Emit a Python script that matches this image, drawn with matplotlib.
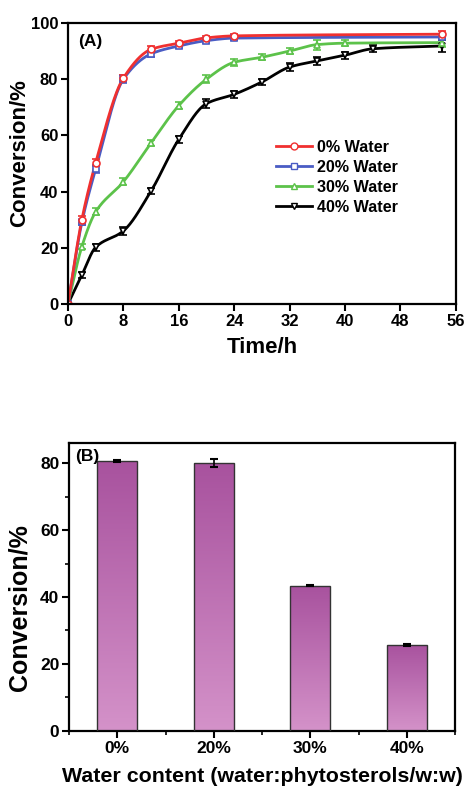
import numpy as np
import matplotlib
matplotlib.use('Agg')
import matplotlib.pyplot as plt
from matplotlib.ticker import MultipleLocator, FixedLocator

plt.rcParams['font.family'] = ['Liberation Sans', 'DejaVu Sans']
plt.rcParams['font.weight'] = 'bold'
plt.rcParams['axes.labelweight'] = 'bold'

# (A) conversion vs time
t_fast = [0, 2, 4, 8, 12, 16, 20, 24, 54]
conv_0 = [0, 30.0, 50.3, 80.4, 90.6, 92.8, 94.7, 95.4, 96.0]
err_0 = [0, 1.2, 1.3, 1.2, 1.3, 0.8, 0.8, 0.8, 1.0]
conv_20 = [0, 29.0, 48.0, 80.0, 89.0, 91.8, 93.7, 94.6, 95.0]
err_20 = [0, 1.0, 1.5, 1.3, 1.0, 0.8, 0.8, 0.8, 0.8]

t_30 = [0, 2, 4, 8, 12, 16, 20, 24, 28, 32, 36, 40, 54]
conv_30 = [0, 20.4, 32.8, 43.5, 57.3, 70.6, 80.0, 86.0, 87.8, 90.0, 92.3, 92.8, 93.0]
err_30 = [0, 1.0, 1.3, 1.2, 1.2, 1.3, 1.5, 1.3, 1.0, 1.2, 1.8, 1.0, 1.5]

t_40 = [0, 2, 4, 8, 12, 16, 20, 24, 28, 32, 36, 40, 44, 54]
conv_40 = [0, 10.3, 20.2, 26.0, 40.2, 58.6, 71.3, 74.6, 79.0, 84.3, 86.5, 88.5, 90.8, 91.8]
err_40 = [0, 1.2, 1.2, 1.3, 1.0, 1.3, 1.5, 1.2, 1.0, 1.3, 1.5, 1.3, 1.3, 2.0]

# (B) conversion at 8 h vs water content
water_labels = ['0%', '20%', '30%', '40%']
conv_8h = [80.6, 80.0, 43.4, 25.8]
err_8h = [0.3, 1.3, 0.2, 0.3]


def pchip(x, y, xs):
    # monotone cubic for a smooth line through the points
    x = np.asarray(x, float)
    y = np.asarray(y, float)
    h = np.diff(x)
    d = np.diff(y) / h
    m = np.zeros_like(y)
    for k in range(1, len(x) - 1):
        if d[k - 1] * d[k] > 0:
            w1 = 2 * h[k] + h[k - 1]
            w2 = h[k] + 2 * h[k - 1]
            m[k] = (w1 + w2) / (w1 / d[k - 1] + w2 / d[k])
    m[0] = d[0]
    m[-1] = d[-1]
    idx = np.clip(np.searchsorted(x, xs) - 1, 0, len(x) - 2)
    hh = h[idx]
    s = (xs - x[idx]) / hh
    h00 = 2 * s**3 - 3 * s**2 + 1
    h10 = s**3 - 2 * s**2 + s
    h01 = -2 * s**3 + 3 * s**2
    h11 = s**3 - s**2
    return h00 * y[idx] + h10 * hh * m[idx] + h01 * y[idx + 1] + h11 * hh * m[idx + 1]


fig = plt.figure(figsize=(4.67, 7.91), dpi=100)
ax1 = fig.add_axes([0.1456, 0.6157, 0.8304, 0.3553])
ax2 = fig.add_axes([0.1478, 0.0759, 0.8265, 0.3641])

series = [
    (t_fast, conv_0, err_0, '#f03030', 'o', '0% Water'),
    (t_fast, conv_20, err_20, '#4a5cc4', 's', '20% Water'),
    (t_30, conv_30, err_30, '#5cc24a', '^', '30% Water'),
    (t_40, conv_40, err_40, 'black', 'v', '40% Water'),
]
for t, c, e, col, mk, lab in reversed(series):
    ts = np.linspace(0, max(t), 400)
    ax1.plot(ts, pchip(t, c, ts), color=col, lw=2)
    ax1.errorbar(t, c, yerr=e, fmt=mk, color=col, mfc='white', mec=col,
                 ms=5, mew=1.2, capsize=3, elinewidth=1.5, capthick=1.5)
for t, c, e, col, mk, lab in series:
    ax1.plot([], [], color=col, lw=2, marker=mk, mfc='white', ms=5, mew=1, label=lab)

ax1.set_xlim(0, 56)
ax1.set_ylim(0, 100)
ax1.xaxis.set_major_locator(MultipleLocator(8))
ax1.yaxis.set_major_locator(MultipleLocator(20))
ax1.set_xlabel('Time/h', fontsize=16, labelpad=6)
ax1.set_ylabel('Conversion/%', fontsize=16)
ax1.yaxis.set_label_coords(-0.098, 0.537)
ax1.text(0.025, 0.96, '(A)', transform=ax1.transAxes, fontsize=12.5,
         fontweight='bold', va='top')
ax1.legend(loc='upper left', bbox_to_anchor=(0.5, 0.635), frameon=False,
           fontsize=11.6, handlelength=2.2, labelspacing=0.3, handletextpad=0.3)

# bars with vertical gradient
xpos = np.arange(len(water_labels))
bars = ax2.bar(xpos, conv_8h, width=0.41, color='none', edgecolor='#333333',
               linewidth=1, zorder=3)
ax2.errorbar(xpos, conv_8h, yerr=err_8h, fmt='none', ecolor='black',
             capsize=3, elinewidth=1.2, capthick=1.5, zorder=4)
grad = np.linspace(0, 1, 256).reshape(-1, 1)
cmap = matplotlib.colors.LinearSegmentedColormap.from_list('pm', ['#d492c9', '#a8529e'])
for b in bars:
    x0 = b.get_x()
    im = ax2.imshow(grad, cmap=cmap, origin='lower', aspect='auto',
                    extent=[x0, x0 + b.get_width(), 0, b.get_height()], zorder=2)
    im.set_clip_path(b)

ax2.set_xlim(-0.5, 3.5)
ax2.set_ylim(0, 86)
ax2.set_xticks(xpos)
ax2.set_xticklabels(water_labels)
ax2.xaxis.set_minor_locator(FixedLocator([-0.5, 0.5, 1.5, 2.5, 3.5]))
ax2.yaxis.set_major_locator(MultipleLocator(20))
ax2.yaxis.set_minor_locator(MultipleLocator(10))
ax2.set_xlabel('Water content (water:phytosterols/w:w)', fontsize=15.4, labelpad=8)
ax2.set_ylabel('Conversion/%', fontsize=18)
ax2.yaxis.set_label_coords(-0.096, 0.427)
ax2.text(0.015, 0.98, '(B)', transform=ax2.transAxes, fontsize=12.5,
         fontweight='bold', va='top')

for ax, ls in ((ax1, 12), (ax2, 12.5)):
    for s in ax.spines.values():
        s.set_linewidth(1.6)
    ax.tick_params(which='major', direction='out', length=5, width=1.5,
                   labelsize=ls, pad=2)
    ax.tick_params(which='minor', direction='out', length=3, width=1.2)
    for lbl in ax.get_xticklabels() + ax.get_yticklabels():
        lbl.set_fontweight('bold')

fig.savefig('out.png', dpi=100)
